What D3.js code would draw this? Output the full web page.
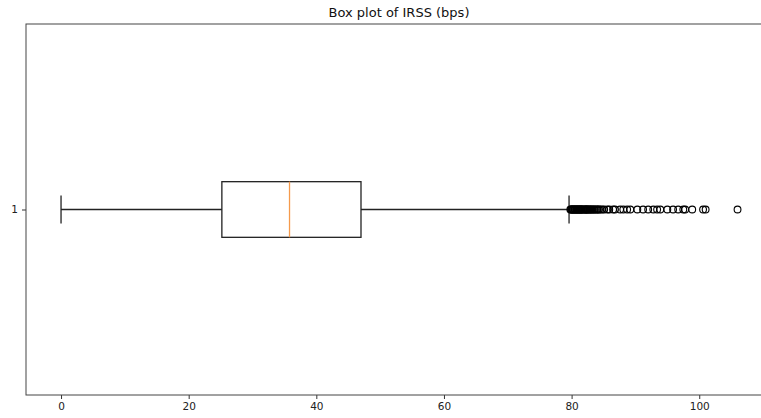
<!DOCTYPE html>
<html>
<head>
<meta charset="utf-8">
<script src="https://cdn.jsdelivr.net/npm/d3@7"></script>
<style>
  body { margin: 0; background: #fff; }
  svg { display: block; }
</style>
</head>
<body>
<div id="chart"></div>
<script>
// ------------------------------------------------------------------
// box plot of IRSS (bps) - horizontal, single box
// ------------------------------------------------------------------
const categories = ["1"]
const xTicks = [0, 20, 40, 60, 80, 100]

// box stats: whisker low, q1, median, q3, whisker high
const whiskerLow = [0]
const q1 = [25.2]
const median = [35.8]
const q3 = [47.0]
const whiskerHigh = [79.6]

// fliers
const outliers = [
  79.8, 79.9, 80.0, 80.1, 80.2, 80.3, 80.4, 80.5, 80.6, 80.7, 80.8, 80.9,
  81.0, 81.1, 81.2, 81.3, 81.4, 81.5, 81.6, 81.7, 81.8, 82.0, 82.1, 82.2,
  82.3, 82.4, 82.5, 82.6, 82.8, 82.9, 83.0, 83.2, 83.3, 83.5, 83.6, 83.8,
  84.0, 84.1, 84.3, 84.5, 84.8, 85.1, 85.6, 85.9, 86.5, 86.8, 87.6, 88.1,
  88.7, 89.2, 90.3, 91.2, 92.0, 92.8, 93.4, 93.9, 95.0, 95.9, 96.7, 97.5,
  97.8, 98.9, 100.6, 101.0, 106.0
]

const W = 761, H = 418
const margin = {top: 24, right: -11, bottom: 23, left: 26}
const width = W - margin.left - margin.right
const height = H - margin.top - margin.bottom

const x = d3.scaleLinear().domain([-5.49, 111.4]).range([0, width])
const y = d3.scaleLinear().domain([1.5, 0.5]).range([0, height])
const boxHalf = 0.075, capHalf = 0.0375

const svg = d3.select("#chart").append("svg")
    .attr("width", W)
    .attr("height", H)

svg.append("text")
    .attr("x", margin.left + width / 2)
    .attr("y", 17)
    .attr("text-anchor", "middle")
    .style("font-family", "DejaVu Sans")
    .style("font-size", "13px")
    .attr("fill", "#111")
    .text("Box plot of IRSS (bps)")

const g = svg.append("g")
    .attr("transform", "translate(" + margin.left + "," + margin.top + ")")

const col = "#222"

categories.forEach(function(c, i) {
  const pos = +c
  const cy = y(pos)
  // whiskers
  g.append("line").attr("x1", x(whiskerLow[i])).attr("x2", x(q1[i]))
    .attr("y1", cy).attr("y2", cy).attr("stroke", col).attr("stroke-width", 1.3)
  g.append("line").attr("x1", x(q3[i])).attr("x2", x(whiskerHigh[i]))
    .attr("y1", cy).attr("y2", cy).attr("stroke", col).attr("stroke-width", 1.3)
  // caps
  ;[whiskerLow[i], whiskerHigh[i]].forEach(function(v) {
    g.append("line").attr("x1", x(v)).attr("x2", x(v))
      .attr("y1", y(pos + capHalf)).attr("y2", y(pos - capHalf))
      .attr("stroke", col).attr("stroke-width", 1.3)
  })
  // box
  g.append("rect")
    .attr("x", x(q1[i])).attr("y", y(pos + boxHalf))
    .attr("width", x(q3[i]) - x(q1[i]))
    .attr("height", y(pos - boxHalf) - y(pos + boxHalf))
    .attr("fill", "none").attr("stroke", col).attr("stroke-width", 1.3)
  // median
  g.append("line").attr("x1", x(median[i])).attr("x2", x(median[i]))
    .attr("y1", y(pos + boxHalf)).attr("y2", y(pos - boxHalf))
    .attr("stroke", "#f59a4c").attr("stroke-width", 1.3)
  // fliers
  g.selectAll(".flier")
    .data(outliers)
    .enter().append("circle")
      .attr("cx", function(d) { return x(d) })
      .attr("cy", cy)
      .attr("r", 3.4)
      .attr("fill", "none")
      .attr("stroke", "#000")
      .attr("stroke-width", 1.1)
})

// x axis
const xAxis = g.append("g")
    .attr("transform", "translate(0," + height + ")")
    .call(d3.axisBottom(x).tickValues(xTicks).tickSize(4).tickPadding(4).tickFormat(d3.format("d")))
xAxis.select(".domain").remove()

// y axis
const yAxis = g.append("g")
    .call(d3.axisLeft(y).tickValues(categories.map(Number)).tickSize(4).tickPadding(4).tickFormat(d3.format("d")))
yAxis.select(".domain").remove()

;[xAxis, yAxis].forEach(function(a) {
  a.selectAll("line").attr("stroke", "#333")
  a.selectAll("text").attr("fill", "#222")
    .style("font-family", "DejaVu Sans").style("font-size", "10.5px")
})

// spines (right spine falls outside the picture)
g.append("rect")
    .attr("x", 0).attr("y", 0)
    .attr("width", width).attr("height", height)
    .attr("fill", "none").attr("stroke", "#444").attr("stroke-width", 1)
</script>
</body>
</html>
